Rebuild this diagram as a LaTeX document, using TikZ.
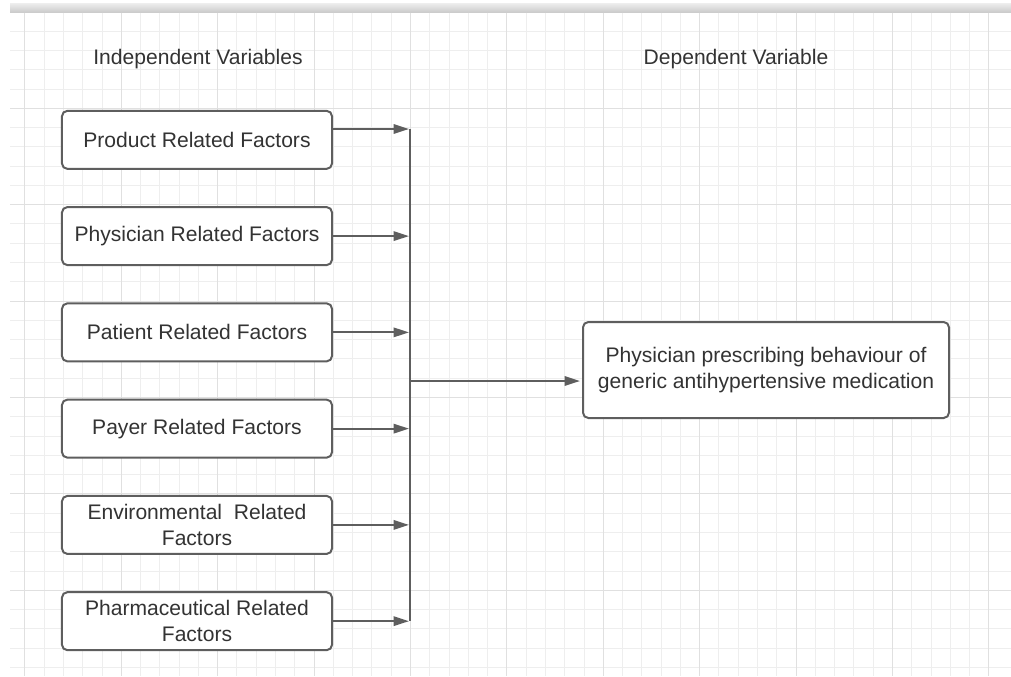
\documentclass[tikz,border=0pt]{standalone}
\usepackage{fontspec}
\setmainfont{Liberation Sans}
\usetikzlibrary{arrows.meta}

\definecolor{gridminor}{HTML}{EEEEEE}
\definecolor{gridmajor}{HTML}{E0E0E0}
\definecolor{boxline}{HTML}{5E5E5E}
\definecolor{labeltext}{HTML}{333333}

\begin{document}
\begin{tikzpicture}[
  x=0.75pt, y=-0.75pt,
  font=\fontsize{15.8}{19.5}\selectfont,
  every matrix/.style={ampersand replacement=\&, row sep=27.2pt},
  factor/.style={draw=boxline, line width=1.5pt, rounded corners=4pt, fill=white, text=labeltext,
    minimum width=202.5pt, minimum height=43.5pt, inner sep=2pt},
  outcome/.style={factor, minimum width=274.5pt, minimum height=72pt},
  heading/.style={text=labeltext},
  arrow/.style={-{Triangle[length=11.5pt, width=7pt]}, draw=boxline, line width=1.5pt},
  line/.style={-, draw=boxline, line width=1.5pt},
  minor grid/.style={draw=gridminor, line width=0.75pt},
  major grid/.style={draw=gridmajor, line width=0.75pt},
  every node/.style={align=center}]

  \useasboundingbox (0,0) rectangle (1011,676);

  % Background: grid paper with a grey bar on top
  \shade[top color=gridminor, bottom color=gridmajor!90!black] (10,3) rectangle (1011,12.5);
  \foreach \k in {0,...,50}
    \draw[minor grid] ({24.9+\k*19.28},12.5) -- ({24.9+\k*19.28},676);
  \foreach \k in {1,...,34}
    \draw[minor grid] (10,{11.9+\k*19.28}) -- (1011,{11.9+\k*19.28});
  \foreach \k in {0,...,10}
    \draw[major grid] ({24.9+\k*96.4},12.5) -- ({24.9+\k*96.4},676);
  \foreach \k in {1,...,6}
    \draw[major grid] (10,{11.9+\k*96.4}) -- (1011,{11.9+\k*96.4});

  % Column headings
  \node[heading] (indep) at (198,59) {Independent Variables};
  \node[heading] (dep) at (736,59) {Dependent Variable};

  % Independent variables, one per row
  \matrix at (197,380.5) {
    \node[factor] (product) {Product Related Factors}; \\
    \node[factor] (physician) {Physician Related Factors}; \\
    \node[factor] (patient) {Patient Related Factors}; \\
    \node[factor] (payer) {Payer Related Factors}; \\
    \node[factor] (environment) {Environmental~~Related \\ Factors}; \\
    \node[factor] (pharma) {Pharmaceutical Related \\ Factors}; \\
  };

  % Dependent variable
  \node[outcome] (behaviour) at (766,370)
    {Physician prescribing behaviour of \\ generic antihypertensive medication};

  % Collecting line
  \coordinate (bus top) at (410,129);
  \coordinate (bus mid) at (410,381);
  \draw[line] (bus top) -- (bus top |- pharma.east);

  % Arrows into the collecting line
  \draw[arrow, shorten >=0.75pt] (product.east |- bus top) -- (bus top);
  \draw[arrow, shorten >=0.75pt] (physician.east) -- (physician.east -| bus top);
  \draw[arrow, shorten >=0.75pt] (patient.east) -- (patient.east -| bus top);
  \draw[arrow, shorten >=0.75pt] (payer.east) -- (payer.east -| bus top);
  \draw[arrow, shorten >=0.75pt] (environment.east) -- (environment.east -| bus top);
  \draw[arrow, shorten >=0.75pt] (pharma.east) -- (pharma.east -| bus top);

  % Arrow to the dependent variable
  \draw[arrow, shorten >=1.5pt] (bus mid) -- (bus mid -| behaviour.west);

\end{tikzpicture}
\end{document}
